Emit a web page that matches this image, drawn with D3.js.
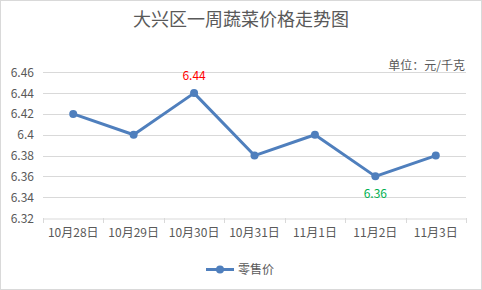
<!DOCTYPE html>
<html>
<head>
<meta charset="utf-8">
<script src="https://cdn.jsdelivr.net/npm/d3@7"></script>
<style>
  body { margin: 0; background: #fff; }
  svg { display: block; font-family: "Microsoft YaHei", "Noto Sans CJK SC", sans-serif; }
</style>
</head>
<body>
<div id="okvir"></div>
<script>
// podaci
const dani = ["10月28日", "10月29日", "10月30日", "10月31日", "11月1日", "11月2日", "11月3日"];
const cijene = [6.42, 6.40, 6.44, 6.38, 6.40, 6.36, 6.38];
const yTicks = [6.32, 6.34, 6.36, 6.38, 6.40, 6.42, 6.44, 6.46];
const naslov = "大兴区一周蔬菜价格走势图";
const jedinica = "单位：元/千克";
const serija = "零售价";

const sirina = 482, visina = 290;
const dim = { left: 43, right: 466, top: 72.3, bottom: 218 };

const okvir = d3.select("#okvir").append("svg")
    .attr("width", sirina)
    .attr("height", visina);

okvir.append("rect")
    .attr("x", 0.5).attr("y", 0.5)
    .attr("width", sirina - 1).attr("height", visina - 1)
    .attr("fill", "#fff").attr("stroke", "#d9d9d9");

okvir.append("text")
    .attr("x", 241).attr("y", 26)
    .attr("text-anchor", "middle")
    .attr("fill", "#595959")
    .style("font-size", "18px")
    .text(naslov);

okvir.append("text")
    .attr("x", 465).attr("y", 70)
    .attr("text-anchor", "end")
    .attr("fill", "#595959")
    .style("font-size", "12px")
    .text(jedinica);

const xSkala = d3.scaleBand().domain(dani).range([dim.left, dim.right]);
const ySkala = d3.scaleLinear().domain([6.32, 6.46]).range([dim.bottom, dim.top]);

// gridlines
okvir.append("g").selectAll("line")
    .data(yTicks.slice(1))
    .join("line")
    .attr("x1", dim.left).attr("x2", dim.right)
    .attr("y1", d => Math.round(ySkala(d)) + 0.5)
    .attr("y2", d => Math.round(ySkala(d)) + 0.5)
    .attr("stroke", "#d9d9d9");

// y labels
okvir.append("g").selectAll("text")
    .data(yTicks)
    .join("text")
    .attr("x", 34)
    .attr("y", d => ySkala(d) + 4.5)
    .attr("text-anchor", "end")
    .attr("fill", "#595959")
    .style("font-size", "12px")
    .text(d => d3.format(".2~f")(d));

// x os
const xOs = okvir.append("g")
    .attr("transform", `translate(0,${Math.round(dim.bottom) + 0.5})`)
    .call(d3.axisBottom(xSkala).tickSize(0).tickPadding(10));
xOs.select(".domain").attr("stroke", "#d9d9d9");
xOs.selectAll("text").attr("fill", "#595959").style("font-size", "12px")
    .style("font-family", "\"Noto Sans CJK SC\", sans-serif");
okvir.append("g").selectAll("line")
    .data(dani.concat([null]))
    .join("line")
    .attr("x1", (d, i) => Math.round(dim.left + i * xSkala.bandwidth()) + 0.5)
    .attr("x2", (d, i) => Math.round(dim.left + i * xSkala.bandwidth()) + 0.5)
    .attr("y1", Math.round(dim.bottom)).attr("y2", Math.round(dim.bottom) + 5)
    .attr("stroke", "#d9d9d9");

const boja = "#4f7fbd";
const xPos = (d, i) => xSkala(dani[i]) + xSkala.bandwidth() / 2;

okvir.append("path")
    .datum(cijene)
    .attr("fill", "none")
    .attr("stroke", boja)
    .attr("stroke-width", 3)
    .attr("stroke-linejoin", "round")
    .attr("d", d3.line().x(xPos).y(d => ySkala(d)));

okvir.append("g").selectAll("circle")
    .data(cijene)
    .join("circle")
    .attr("cx", xPos)
    .attr("cy", d => ySkala(d))
    .attr("r", 4)
    .attr("fill", boja);

// oznake max / min
const maxI = cijene.indexOf(d3.max(cijene));
const minI = cijene.indexOf(d3.min(cijene));
okvir.append("text")
    .attr("x", xPos(null, maxI)).attr("y", ySkala(cijene[maxI]) - 13)
    .attr("text-anchor", "middle").attr("fill", "#ff0000")
    .style("font-size", "12px")
    .text(cijene[maxI].toFixed(2));
okvir.append("text")
    .attr("x", xPos(null, minI)).attr("y", ySkala(cijene[minI]) + 22)
    .attr("text-anchor", "middle").attr("fill", "#00b050")
    .style("font-size", "12px")
    .text(cijene[minI].toFixed(2));

// legenda
okvir.append("line")
    .attr("x1", 206).attr("x2", 234).attr("y1", 269.5).attr("y2", 269.5)
    .attr("stroke", boja).attr("stroke-width", 3);
okvir.append("circle").attr("cx", 220).attr("cy", 269.5).attr("r", 4).attr("fill", boja);
okvir.append("text")
    .attr("x", 238).attr("y", 274)
    .attr("fill", "#595959")
    .style("font-size", "12px")
    .text(serija);
</script>
</body>
</html>
